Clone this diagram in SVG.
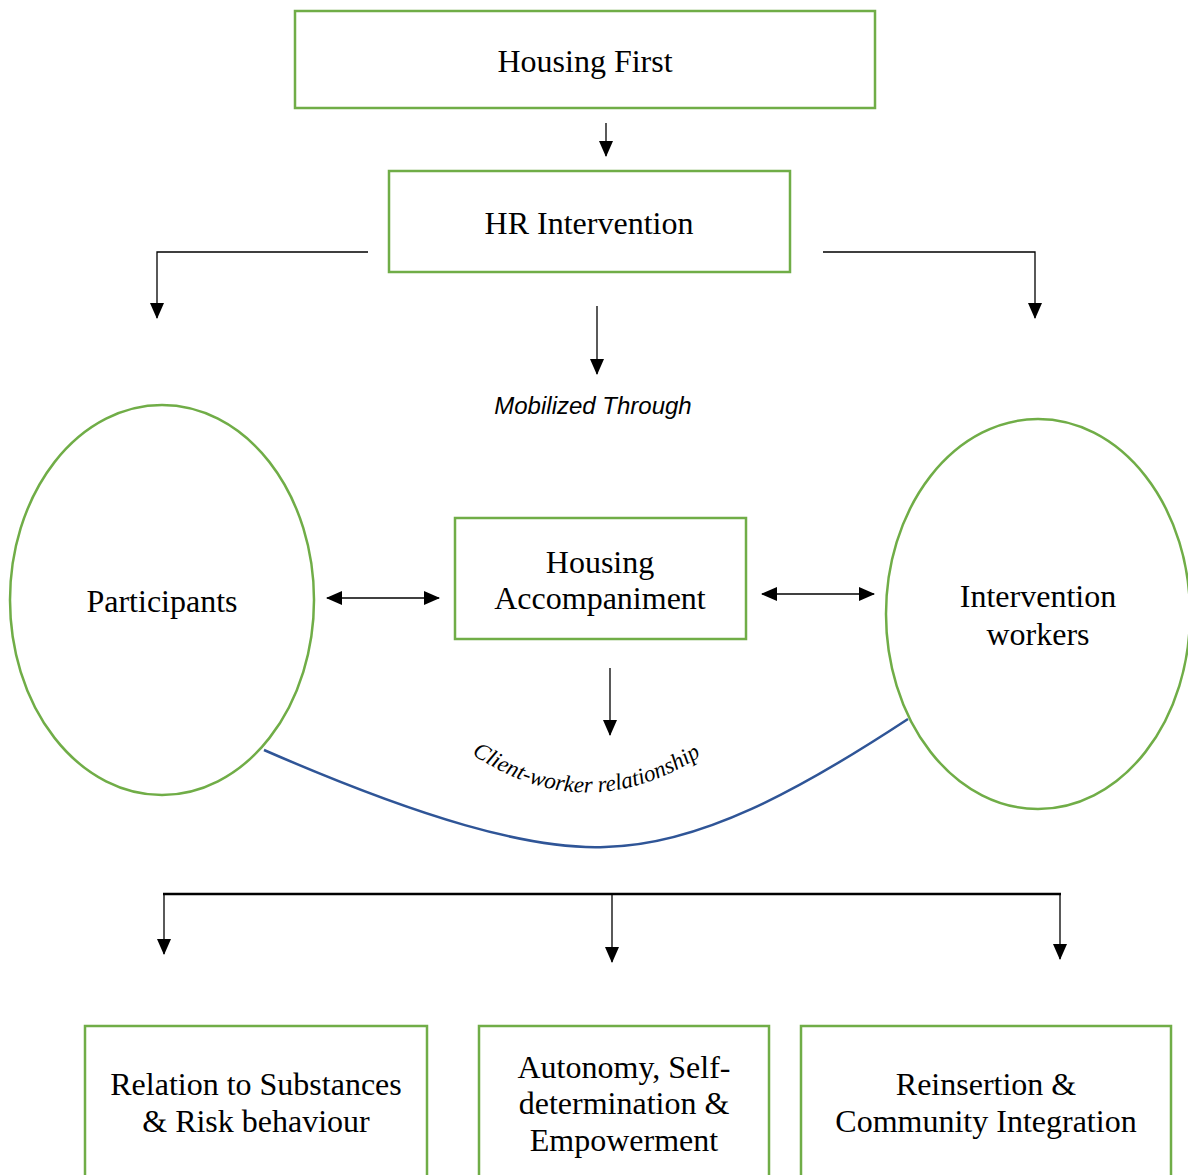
<svg xmlns="http://www.w3.org/2000/svg" width="1188" height="1175" viewBox="0 0 1188 1175">
<style>
.box{fill:#fff;stroke:#70AD47;stroke-width:2.5}
.t{font-family:"Liberation Serif","Times New Roman",serif;font-size:32px;fill:#000;text-anchor:middle}
.ln{fill:none;stroke:#000;stroke-width:1.3}
.bus{fill:none;stroke:#000;stroke-width:2.5}
</style>
<defs>
<marker id="ah" markerUnits="userSpaceOnUse" markerWidth="16" markerHeight="16" viewBox="0 0 16 16" refX="15" refY="8" orient="auto-start-reverse">
<path d="M0,1 L16,8 L0,15 Z" fill="#000"/>
</marker>
<path id="arc" d="M 466,750 Q 585,834 707,752"/>
</defs>
<g id="connectors">
<line class="ln" x1="606" y1="123" x2="606" y2="156" marker-end="url(#ah)"/>
<polyline class="ln" points="368,252 157,252 157,318" marker-end="url(#ah)"/>
<polyline class="ln" points="823,252 1035,252 1035,318" marker-end="url(#ah)"/>
<line class="ln" x1="597" y1="306" x2="597" y2="374" marker-end="url(#ah)"/>
<line class="ln" x1="327" y1="598" x2="439" y2="598" marker-start="url(#ah)" marker-end="url(#ah)"/>
<line class="ln" x1="762" y1="594" x2="874" y2="594" marker-start="url(#ah)" marker-end="url(#ah)"/>
<line class="ln" x1="610" y1="668" x2="610" y2="735" marker-end="url(#ah)"/>
<path d="M264,750 C420,818 530,850 605,847 C700,845 800,790 908,719" fill="none" stroke="#2F5597" stroke-width="2.5"/>
<line class="bus" x1="163" y1="894" x2="1061" y2="894"/>
<line class="ln" x1="164" y1="893" x2="164" y2="954" marker-end="url(#ah)"/>
<line class="ln" x1="612" y1="894" x2="612" y2="962" marker-end="url(#ah)"/>
<line class="ln" x1="1060" y1="893" x2="1060" y2="959" marker-end="url(#ah)"/>
</g>
<g id="housing-first">
<rect class="box" x="295" y="11" width="580" height="97"/>
<text class="t" x="585" y="72">Housing First</text>
</g>
<g id="hr-intervention">
<rect class="box" x="389" y="171" width="401" height="101"/>
<text class="t" x="589" y="234">HR Intervention</text>
</g>
<g id="mobilized-through">
<text x="593" y="414" font-family="Liberation Sans, Arial, sans-serif" font-size="24" font-style="italic" text-anchor="middle">Mobilized Through</text>
</g>
<g id="participants">
<ellipse cx="162" cy="600" rx="152" ry="195" fill="#fff" stroke="#70AD47" stroke-width="2.5"/>
<text class="t" x="162" y="612">Participants</text>
</g>
<g id="housing-accompaniment">
<rect class="box" x="455" y="518" width="291" height="121"/>
<text class="t" x="600" y="573">Housing</text>
<text class="t" x="600" y="609">Accompaniment</text>
</g>
<g id="intervention-workers">
<ellipse cx="1038" cy="614" rx="152" ry="195" fill="#fff" stroke="#70AD47" stroke-width="2.5"/>
<text class="t" x="1038" y="607">Intervention</text>
<text class="t" x="1038" y="645">workers</text>
</g>
<g id="client-worker-label">
<text font-family="Liberation Serif, Times New Roman, serif" font-size="23" font-style="italic"><textPath href="#arc" startOffset="50%" text-anchor="middle">Client-worker relationship</textPath></text>
</g>
<g id="substances">
<rect class="box" x="85" y="1026" width="342" height="160"/>
<text class="t" x="256" y="1095">Relation to Substances</text>
<text class="t" x="256" y="1132">&amp; Risk behaviour</text>
</g>
<g id="autonomy">
<rect class="box" x="479" y="1026" width="290" height="160"/>
<text class="t" x="624" y="1078">Autonomy, Self-</text>
<text class="t" x="624" y="1114">determination &amp;</text>
<text class="t" x="624" y="1151">Empowerment</text>
</g>
<g id="reinsertion">
<rect class="box" x="801" y="1026" width="370" height="160"/>
<text class="t" x="986" y="1095">Reinsertion &amp;</text>
<text class="t" x="986" y="1132">Community Integration</text>
</g>
</svg>
